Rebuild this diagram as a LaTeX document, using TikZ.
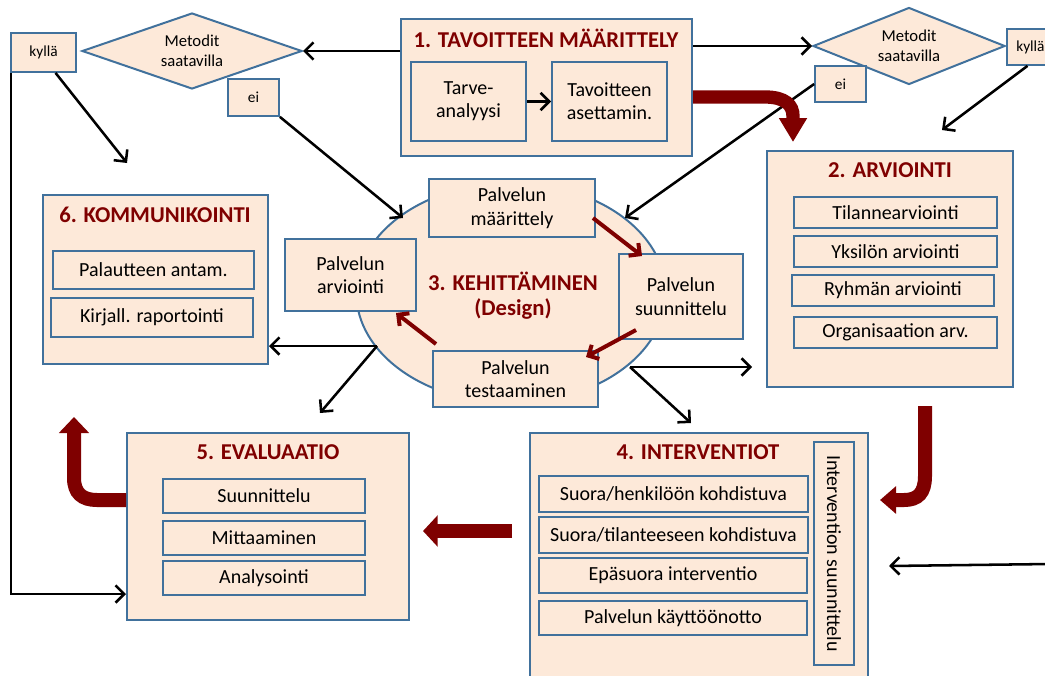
\documentclass[tikz,border=0pt]{standalone}
\usepackage{fontspec}
\setmainfont{Carlito}
\usetikzlibrary{arrows.meta,shapes.geometric}
\definecolor{peach}{HTML}{FDE9D9}
\definecolor{bord}{HTML}{41719C}
\definecolor{dred}{HTML}{7F0000}
\begin{document}
\begin{tikzpicture}[x=0.75pt,y=-0.75pt,
  rect/.style args={#1/#2/#3/#4}{minimum width={(#3-#1)*0.75pt}, minimum height={(#4-#2)*0.75pt}, at={({(#1+#3)/2},{(#2+#4)/2})}},
  box/.style={draw=bord, fill=peach, line width=1.5pt, inner sep=0pt, align=center, font=\fontsize{15}{17.5}\selectfont},
  sbox/.style={box, line width=1.3pt, font=\fontsize{11.5}{13}\selectfont},
  ttl/.style={text=dred, inner sep=0pt, font=\fontsize{17}{20}\selectfont\bfseries},
  dia/.style={diamond, draw=bord, fill=peach, line width=1.5pt, inner sep=0pt, align=center, font=\fontsize{12.5}{15}\selectfont},
  arr/.style={line width=1.9pt, -{Straight Barb[length=6.5pt,width=13pt]}},
  rarr/.style={dred, line width=3pt, -{Straight Barb[length=6pt,width=12pt]}},
  big/.style={dred, line width=10pt}
]
\useasboundingbox (0,0) rectangle (1045,675);
\clip (0,0) rectangle (1045,675);

% ---- 1. Tavoitteen maarittely
\node[box, rect=401/19/692/156] (b1) {};
\node[ttl] (t1) at (546,38) {1. TAVOITTEEN MÄÄRITTELY};
\node[box, rect=411/62/526/141] (tarve) {Tarve-\\analyysi};
\node[box, rect=552/62/667/141] (tavo) {Tavoitteen\\asettamin.};
\draw[arr] (tarve) -- (tavo);

% ---- diamonds and yes/no labels
\node[dia, minimum width=165pt, minimum height=57pt, aspect=2.9] (dL) at (192,51) {Metodit\\saatavilla};
\node[dia, minimum width=144pt, minimum height=57.75pt, aspect=2.5] (dR) at (909,46) {Metodit\\saatavilla};
\node[sbox, rect=11/33/76/72] (kyL) {kyllä};
\node[sbox, rect=228/79/279/116] (eiL) {ei};
\node[sbox, rect=815/66/866/102] (eiR) {ei};
\node[sbox, rect=1007/29/1062/65] (kyR) {};
\node[inner sep=0pt, font=\fontsize{11.5}{13}\selectfont, anchor=west] (kyRt) at (1016,47) {kyllä};

% ---- 2. Arviointi
\node[box, rect=767/151/1013/387] (b2) {};
\node[ttl] (t2) at (890,170) {2. ARVIOINTI};
\node[box, rect=794/197/997/228] (a1) {Tilannearviointi};
\node[box, rect=794/236/997/267] (a2) {Yksilön arviointi};
\node[box, rect=792/275/994/306] (a3) {Ryhmän arviointi};
\node[box, rect=794/317/997/348] (a4) {Organisaation arv.};

% ---- 6. Kommunikointi
\node[box, rect=43/195/268/364] (b6) {};
\node[ttl] (t6) at (155,215) {6. KOMMUNIKOINTI};
\node[box, rect=53/251/254/289] (k1) {Palautteen antam.};
\node[box, rect=51/298/253/337] (k2) {Kirjall. raportointi};

% ---- 3. Kehittaminen
\node[ellipse, draw=bord, fill=peach, line width=1.5pt, minimum width=232pt, minimum height=165pt,
      inner sep=0pt] (el) at (511,293) {};
\node[ttl, align=center, font=\fontsize{17}{19}\selectfont\bfseries] (elt) at (513,296) {3. KEHITTÄMINEN\\(Design)};
\node[box, rect=429/179/595/237] (pm) {Palvelun\\määrittely};
\node[box, rect=285/239/416/311] (pa) {Palvelun\\arviointi};
\node[box, rect=619/254/743/339] (ps) {Palvelun\\suunnittelu};
\node[box, rect=433/351/598/407] (pt) {Palvelun\\testaaminen};
\draw[rarr] ([shift={(-3,-20)}]pm.south east) -- ([shift={(24,3)}]ps.north west);
\draw[rarr] ([shift={(18,-10)}]ps.south west) -- ([shift={(-13,7)}]pt.north east);
\draw[rarr] ([shift={(4,-6)}]pt.north west) -- ([shift={(-21,1)}]pa.south east);

% ---- 5. Evaluaatio
\node[box, rect=127/433/409/620] (b5) {};
\node[ttl] (t5) at (268,452) {5. EVALUAATIO};
\node[box, rect=163/479/365/513] (e1) {Suunnittelu};
\node[box, rect=163/521/365/555] (e2) {Mittaaminen};
\node[box, rect=163/561/365/595] (e3) {Analysointi};

% ---- 4. Interventiot
\node[box, rect=530/433/868/700] (b4) {};
\node[ttl] (t4) at (698,452) {4. INTERVENTIOT};
\node[box, line width=2.2pt, rect=539/476/808/512] (i1) {Suora/henkilöön kohdistuva};
\node[box, line width=1pt, rect=539/517/808/553] (i2) {Suora/tilanteeseen kohdistuva};
\node[box, line width=1pt, rect=539/558/807/593] (i3) {Epäsuora interventio};
\node[box, line width=1pt, rect=539/601/807/635] (i4) {Palvelun käyttöönotto};
\node[box, rect=814/442/854/665] (iv) {};
\node[rotate=-90, inner sep=0pt, font=\fontsize{15}{17.5}\selectfont] (ivt) at (iv.center) {Intervention suunnittelu};

% ---- free ends of connectors
\coordinate (c3) at (403,218);
\coordinate (c4) at (625,218);
\coordinate (c5) at (942,130);
\coordinate (c6) at (127,163);
\coordinate (jL) at (377,346);
\coordinate (c8) at (320,413);
\coordinate (jR) at (630,367);
\coordinate (c9) at (752,367);
\coordinate (c10) at (691,423);
\coordinate (c11) at (1050,564);
\coordinate (c12) at (889,566);

% ---- black connectors
\draw[arr] (b1.west |- dL.east) -- (dL.east);
\draw[arr] (b1.east |- dR.west) -- (dR.west);
\draw[arr] ([shift={(12,0)}]kyL.south) -- (c6);
\draw[arr] (eiL.south east) -- (c3);
\draw[arr] (eiR.west) -- (c4);
\draw[arr] ([shift={(-7,0)}]kyR.south) -- (c5);
\draw[arr] ([shift={(1,0)}]kyL.south west) |- ([shift={(0,-27)}]b5.south west);
\draw[arr] (jL) -- (b6.east |- jL);
\draw[arr] (jL) -- (c8);
\draw[arr] (jR) -- (c9);
\draw[arr] (jR) -- (c10);
\draw[arr] (c11) -- (c12);

% ---- big red arrows
\draw[big, -{Triangle[length=18pt,width=20pt]}] (b1.east |- 0,97) -- (765,97) .. controls (785,97) and (793,105) .. (793,116) -- (793,142);
\draw[big, line width=10.5pt, -{Triangle[length=12pt,width=20pt]}] (925,406) -- (925,476) .. controls (925,493) and (918,500) .. (904,500) -- (880,500);
\draw[big, line width=11pt, -{Triangle[length=11pt,width=23pt]}] (512,531) -- (423,531);
\draw[big, line width=10.5pt, -{Triangle[length=12pt,width=22pt]}] (b5.west |- 0,500) -- (97,500) .. controls (82,500) and (74,493) .. (74,478) -- (74,417);
\end{tikzpicture}
\end{document}
